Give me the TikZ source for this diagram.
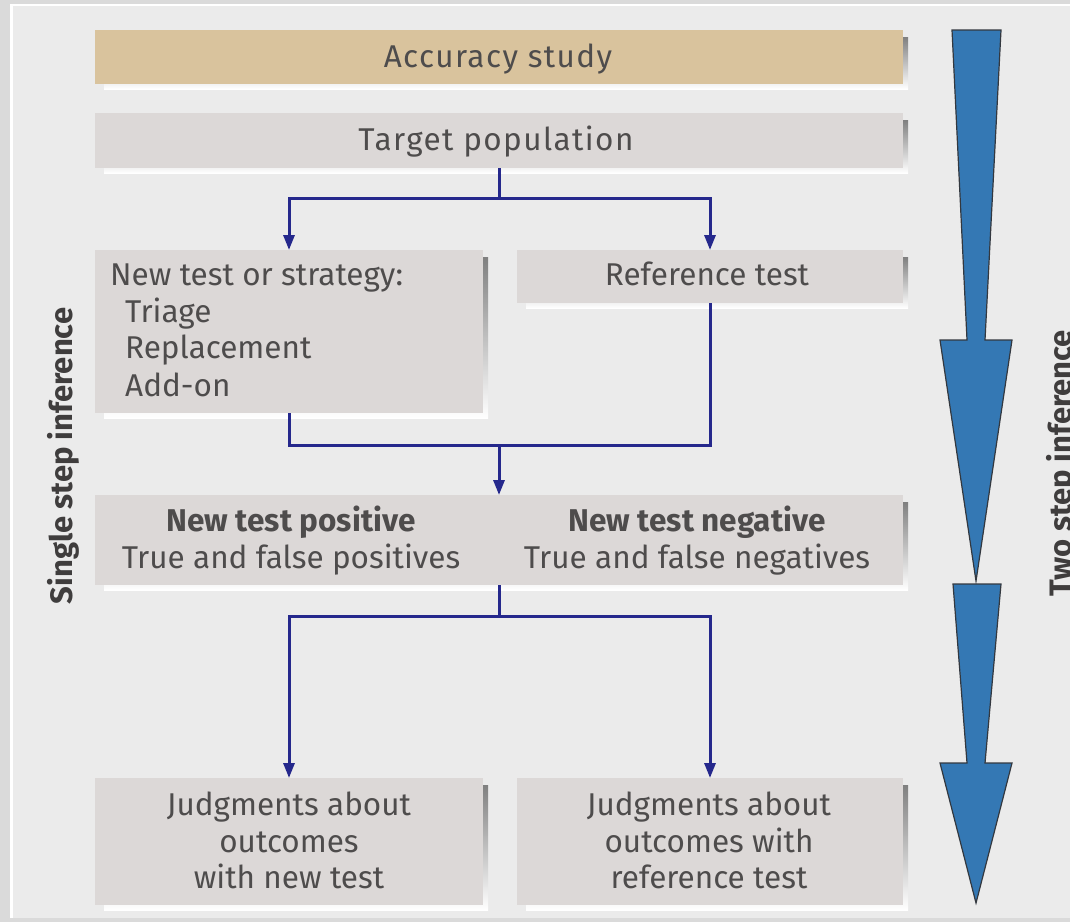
\documentclass[tikz,border=0pt]{standalone}
\usepackage{fontspec}
\setmainfont{Fira Sans}
\newfontfamily\widefont[LetterSpace=4.5]{Fira Sans}
\usetikzlibrary{arrows.meta}

\definecolor{outer}{HTML}{DADADA}
\definecolor{panel}{HTML}{EBEBEB}
\definecolor{boxgray}{HTML}{DCD8D7}
\definecolor{boxtan}{HTML}{D9C39D}
\definecolor{shade}{HTML}{A9A5A5}
\definecolor{ink}{HTML}{4E4C4C}
\definecolor{labelink}{HTML}{3F3D3D}
\definecolor{navy}{HTML}{25288C}
\definecolor{bigblue}{HTML}{3478B4}
\definecolor{bigedge}{HTML}{33383F}

\begin{document}
\begin{tikzpicture}[x=1pt,y=-1pt,
  panelbox/.style={rectangle, draw=none, fill=boxgray, inner sep=0pt, outer sep=0pt},
  tanbox/.style={panelbox, fill=boxtan},
  txt/.style={inner sep=0pt, anchor=base, text=ink, font=\fontsize{31.5}{37}\selectfont},
  txtw/.style={txt, font=\fontsize{31.5}{37}\selectfont\widefont},
  txtl/.style={txt, anchor=base west},
  txtb/.style={txt, font=\fontsize{31.5}{37}\selectfont\bfseries},
  sidelabel/.style={inner sep=0pt, anchor=base, rotate=90, text=labelink,
    font=\fontsize{31}{37}\selectfont\bfseries},
  link/.style={draw=navy, line width=3pt},
  linkarrow/.style={link, -{Triangle[length=15pt,width=11pt]}},
  bigarrow/.style={fill=bigblue, draw=bigedge, line width=1.2pt, line join=miter},
]
\useasboundingbox (0,0) rectangle (1070,922);
\clip (0,0) rectangle (1070,922);

% page backdrop and framed panel
\fill[outer] (0,0) rectangle (1070,922);
\fill[panel] (12,5) rectangle (1075,918);
\draw[white, line width=2.5pt] (11.5,918) -- (11.5,5) -- (1075,5);

% solid offset shadows, drawn first so the boxes sit on top of them
\foreach \xa/\ya/\xb/\yb in {104/37/908/89, 104/120/908/173, 104/257/488/418,
    526/257/908/308, 104/502/908/590, 104/785/488/910, 526/785/908/910}
  \fill[shade] (\xa,\ya) rectangle (\xb,\yb);

% boxes
\node[tanbox, minimum width=808pt, minimum height=54pt] (acc) at (499,57) {};
\node[panelbox, minimum width=808pt, minimum height=55pt] (tp) at (499,140.5) {};
\node[panelbox, minimum width=388pt, minimum height=163pt] (nt) at (289,331.5) {};
\node[panelbox, minimum width=386pt, minimum height=53pt] (rt) at (710,276.5) {};
\node[panelbox, minimum width=808pt, minimum height=90pt] (mid) at (499,540) {};
\node[panelbox, minimum width=388pt, minimum height=127pt] (jl) at (289,841.5) {};
\node[panelbox, minimum width=386pt, minimum height=127pt] (jr) at (710,841.5) {};

% box texts
\node[txtw] (acc-t) at (498,67) {Accuracy study};
\node[txtw] (tp-t) at (496,150) {Target population};
\node[txtl] (nt-t1) at (110,285) {New test or strategy:};
\node[txtl] (nt-t2) at (125,322) {Triage};
\node[txtl] (nt-t3) at (125,358) {Replacement};
\node[txtl] (nt-t4) at (125,396) {Add-on};
\node[txt] (rt-t) at (707,285) {Reference test};
\node[txtb] (pos-h) at (291,531) {New test positive};
\node[txt] (pos-t) at (291,568) {True and false positives};
\node[txtb] (neg-h) at (697,531) {New test negative};
\node[txt] (neg-t) at (697,568) {True and false negatives};
\node[txt] (jl-t1) at (289,815) {Judgments about};
\node[txt] (jl-t2) at (289,852) {outcomes};
\node[txt] (jl-t3) at (289,888) {with new test};
\node[txt] (jr-t1) at (709,815) {Judgments about};
\node[txt] (jr-t2) at (709,852) {outcomes with};
\node[txt] (jr-t3) at (709,888) {reference test};

% connectors
\coordinate (j1) at (499,198);
\draw[link] (tp.south) -- (j1);
\draw[linkarrow] (j1) -| (nt.north);
\draw[linkarrow] (j1) -| (rt.north);

\coordinate (j2) at (499,445);
\draw[link] (nt.south) |- (j2) -| (rt.south);
\draw[linkarrow] (j2) -- (mid.north);

\coordinate (j3) at (499,616);
\draw[link] (mid.south) -- (j3);
\draw[linkarrow] (j3) -| (jl.north);
\draw[linkarrow] (j3) -| (jr.north);

% large tapered arrows at the right
\draw[bigarrow] (952,30) -- (1001,30) -- (985,340) -- (1012,340) -- (976,581)
  -- (940,340) -- (967,340) -- cycle;
\draw[bigarrow] (953,584) -- (1001,584) -- (985,763) -- (1012,763) -- (976,903)
  -- (940,763) -- (967,763) -- cycle;

% side labels
\node[sidelabel] (single) at (72,456) {Single step inference};
\node[sidelabel] (twostep) at (1071,463) {Two step inference};
\end{tikzpicture}
\end{document}
